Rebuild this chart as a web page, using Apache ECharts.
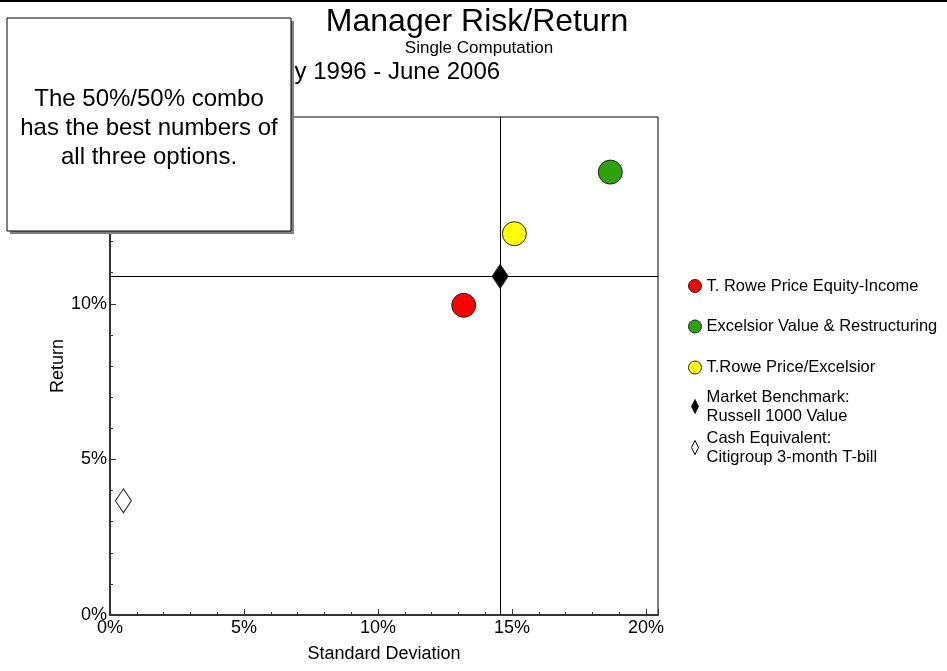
<!DOCTYPE html>
<html>
<head>
<meta charset="utf-8">
<script src="https://cdn.jsdelivr.net/npm/echarts@6/dist/echarts.min.js"></script>
<style>
html,body{margin:0;padding:0;background:#fff;}
#main{width:947px;height:671px;}
</style>
</head>
<body>
<div id="main"></div>
<script>
// 风险/收益 数据
var names = ['T. Rowe Price Equity-Income', 'Excelsior Value & Restructuring', 'T.Rowe Price/Excelsior', 'Market Benchmark:\nRussell 1000 Value', 'Cash Equivalent:\nCitigroup 3-month T-bill'];
var stdDev = [13.2, 18.67, 15.09, 14.56, 0.5];
var returns = [9.95, 14.23, 12.25, 10.88, 3.67];
var colors = ['#ff0000', '#2ca30c', '#ffff00', '#000000', '#ffffff'];
var xTicks = [0, 5, 10, 15, 20];
var yTicks = [0, 5, 10, 15];

(function(){
  var font = 'Liberation Sans, Arial, sans-serif';
  var myChart = echarts.init(document.getElementById('main'));
  var series = [];
  for (var i = 0; i < names.length; i++) {
    var isDiamond = i >= 3;
    var s = {
      name: names[i],
      type: 'scatter',
      symbol: isDiamond ? 'diamond' : 'circle',
      symbolSize: isDiamond ? [16, 24] : 24,
      itemStyle: {
        color: colors[i],
        borderColor: '#222',
        borderWidth: 1,
        opacity: 1
      },
      z: 5,
      data: [[stdDev[i], returns[i]]]
    };
    if (i == 3) {
      // 基准十字线
      s.markLine = {
        silent: true,
        symbol: 'none',
        label: { show: false },
        lineStyle: { color: '#000', width: 1, type: 'solid' },
        z: 2,
        data: [{ xAxis: stdDev[3] }, { yAxis: returns[3] }]
      };
    }
    series.push(s);
  }

  // 图例 每项单独放
  var legendTops = [276.5, 317, 358, 387.5, 428.5];
  var legends = [];
  for (var k = 0; k < names.length; k++) {
    var diamond = k >= 3;
    var item = { name: names[k] };
    item.icon = diamond ? 'path://M1,0L2,2L1,4L0,2Z' : 'circle';
    if (k == 4) {
      item.itemStyle = { color: '#fff', borderColor: '#000', borderWidth: 1 };
    }
    legends.push({
      data: [item],
      left: diamond ? 691 : 688,
      top: legendTops[k],
      padding: 0,
      itemWidth: 13,
      itemHeight: diamond ? 14 : 13,
      itemGap: 0,
      selectedMode: false,
      itemStyle: { borderColor: '#222', borderWidth: 1 },
      textStyle: { fontFamily: font, fontSize: 16.5, color: '#000', lineHeight: 19 }
    });
  }

  var option = {
    backgroundColor: '#fff',
    animation: false,
    title: [
      { text: 'Manager Risk/Return', left: 477, textAlign: 'center', top: 6, padding: 0,
        textStyle: { fontFamily: font, fontSize: 32, fontWeight: 'normal', color: '#000' } },
      { text: 'Single Computation', left: 479, textAlign: 'center', top: 40, padding: 0,
        textStyle: { fontFamily: font, fontSize: 17, fontWeight: 'normal', color: '#000' } },
      { text: 'July 1996 - June 2006', left: 382, textAlign: 'center', top: 60, padding: 0,
        textStyle: { fontFamily: font, fontSize: 24, fontWeight: 'normal', color: '#000' } }
    ],
    legend: legends,
    grid: {
      left: 110, right: 289, top: 117, bottom: 56,
      show: true, borderColor: '#000', borderWidth: 1
    },
    xAxis: {
      type: 'value', min: 0, max: 20.45, interval: 5,
      name: 'Standard Deviation', nameLocation: 'middle', nameGap: 30,
      nameTextStyle: { fontFamily: font, fontSize: 18, color: '#000' },
      axisLine: { show: true, onZero: false, lineStyle: { color: '#333', width: 2 } },
      axisTick: { show: true, inside: true, length: 6, lineStyle: { color: '#333' } },
      minorTick: { show: true, splitNumber: 5, length: 3, lineStyle: { color: '#333' } },
      splitLine: { show: false },
      axisLabel: {
        margin: 4, showMaxLabel: false, fontFamily: font, fontSize: 18, color: '#000',
        formatter: function(v){ return xTicks.indexOf(v) >= 0 ? v + '%' : ''; }
      }
    },
    yAxis: {
      type: 'value', min: 0, max: 16, interval: 5,
      name: 'Return', nameLocation: 'middle', nameGap: 43, nameMoveOverlap: false,
      nameTextStyle: { fontFamily: font, fontSize: 18, color: '#000' },
      axisLine: { show: true, onZero: false, lineStyle: { color: '#333', width: 2 } },
      axisTick: { show: true, inside: true, length: 6, lineStyle: { color: '#333' } },
      minorTick: { show: true, splitNumber: 5, length: 3, lineStyle: { color: '#333' } },
      splitLine: { show: false },
      axisLabel: {
        margin: 3, showMaxLabel: false, fontFamily: font, fontSize: 18, color: '#000',
        formatter: function(v){ return yTicks.indexOf(v) >= 0 ? v + '%' : ''; }
      }
    },
    graphic: [
      { type: 'line', zlevel: 2, z: 100, shape: { x1: 0, y1: 1, x2: 947, y2: 1 }, style: { stroke: '#000', lineWidth: 2 } },
      // 注释框 盖在坐标轴上面
      { type: 'rect', zlevel: 2, z: 100, shape: { x: 10, y: 21, width: 284, height: 213 },
        style: { fill: '#808080' } },
      { type: 'rect', zlevel: 2, z: 101, shape: { x: 7, y: 18, width: 284, height: 213 },
        style: { fill: '#fff', stroke: '#000', lineWidth: 1 } },
      { type: 'text', zlevel: 2, z: 102, x: 149, y: 128,
        style: { text: 'The 50%/50% combo\nhas the best numbers of\nall three options.',
          fontFamily: font, fontSize: 24, lineHeight: 29, fill: '#000',
          align: 'center', verticalAlign: 'middle' } }
    ],
    series: series
  };
  myChart.setOption(option);
  window.addEventListener('resize', function(){
    myChart.resize();
  });
})();
</script>
</body>
</html>
